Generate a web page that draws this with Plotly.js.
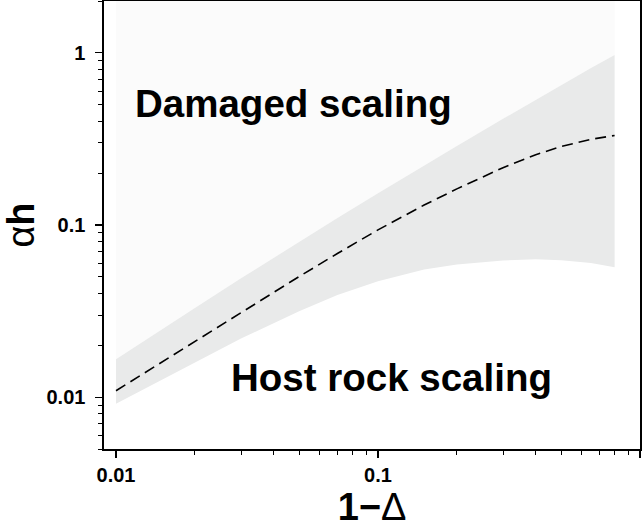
<!DOCTYPE html>
<html>
<head>
<meta charset="utf-8">
<script src="https://cdn.plot.ly/plotly-3.0.1.min.js"></script>
<style>html,body{margin:0;padding:0;background:#fff;}#chart{width:642px;height:528px;}</style>
</head>
<body>
<div id="chart"></div>
<script>
// 1 - Delta values (x)
const oneMinusDelta = [0.01, 0.015, 0.02, 0.03, 0.05, 0.07, 0.1, 0.15, 0.2, 0.3, 0.4, 0.5, 0.65, 0.8];
// upper edge of the grey band
const alphaHUpper   = [0.0166, 0.0249, 0.0330, 0.0490, 0.0799, 0.1098, 0.153, 0.222, 0.288, 0.414, 0.534, 0.649, 0.815, 0.973];
// lower edge of the grey band
const alphaHLower   = [0.00917, 0.01268, 0.01596, 0.0219, 0.0316, 0.0392, 0.0472, 0.0551, 0.0590, 0.0623, 0.0632, 0.0625, 0.0601, 0.0568];
// central dashed curve
const alphaHMid     = [0.0109, 0.01605, 0.02113, 0.03107, 0.0502, 0.0683, 0.0937, 0.1306, 0.1621, 0.2153, 0.2559, 0.2854, 0.3145, 0.3313];

const xTickVals = [0.01, 0.1, 1];
const xTickText = ['0.01', '0.1', '1'];
const yTickVals = [0.01, 0.1, 1];
const yTickText = ['0.01', '0.1', '1'];
const xRange = [0.009, 1];
const yRange = [0.005, 2];

const regionLabels = ['Damaged scaling', 'Host rock scaling'];

const log10 = v => Math.log10(v);

// light region above the band (up to the top of the axis range)
const lightX = oneMinusDelta.concat([oneMinusDelta[oneMinusDelta.length - 1], oneMinusDelta[0]]);
const lightY = alphaHUpper.concat([yRange[1], yRange[1]]);

const traces = [
  {x: lightX, y: lightY, type: 'scatter', mode: 'lines', fill: 'toself',
   fillcolor: '#fbfbfb', line: {width: 0, color: 'rgba(0,0,0,0)'}, hoverinfo: 'skip', showlegend: false},
  {x: oneMinusDelta, y: alphaHLower, type: 'scatter', mode: 'lines',
   line: {width: 0, color: 'rgba(0,0,0,0)'}, hoverinfo: 'skip', showlegend: false},
  {x: oneMinusDelta, y: alphaHUpper, type: 'scatter', mode: 'lines', fill: 'tonexty',
   fillcolor: '#e9eaea', line: {width: 0, color: 'rgba(0,0,0,0)'}, hoverinfo: 'skip', showlegend: false},
  {x: oneMinusDelta, y: alphaHMid, type: 'scatter', mode: 'lines',
   line: {width: 1.6, color: '#000', dash: '11px,6px'}, showlegend: false}
];

const tickFont = {family: 'Liberation Sans, Arial, sans-serif', size: 20, color: '#000', weight: 'bold'};
const labelFont = {family: 'Liberation Sans, Arial, sans-serif', size: 38.5, color: '#000', weight: 'bold'};

const layout = {
  width: 642, height: 528,
  margin: {l: 104, r: 2, t: 1, b: 79, pad: 0},
  paper_bgcolor: '#fff', plot_bgcolor: '#fff',
  showlegend: false,
  xaxis: {
    type: 'log', range: [log10(xRange[0]), log10(xRange[1])],
    tickmode: 'array', tickvals: xTickVals, ticktext: xTickText,
    ticks: 'outside', ticklen: 7, tickwidth: 1.3, tickcolor: '#000',
    minor: {dtick: 'D1', ticks: 'outside', ticklen: 4, tickwidth: 1, tickcolor: '#000', showgrid: false},
    showgrid: false, zeroline: false,
    showline: true, linecolor: '#000', linewidth: 1.6, mirror: true,
    tickfont: tickFont,
    title: {text: '<b>1−</b>Δ', font: {family: 'Liberation Sans, Arial, sans-serif', size: 38, color: '#000'}, standoff: 14},
    automargin: false, fixedrange: true
  },
  yaxis: {
    type: 'log', range: [log10(yRange[0]), log10(yRange[1])],
    tickmode: 'array', tickvals: yTickVals, ticktext: yTickText,
    ticks: 'outside', ticklen: 7, tickwidth: 1.3, tickcolor: '#000',
    minor: {dtick: 'D1', ticks: 'outside', ticklen: 4, tickwidth: 1, tickcolor: '#000', showgrid: false},
    showgrid: false, zeroline: false,
    showline: true, linecolor: '#000', linewidth: 1.6, mirror: true,
    tickfont: tickFont, ticklabelstandoff: 6,
    title: {text: 'α<b>h</b>', font: {family: 'Liberation Sans, Arial, sans-serif', size: 38, color: '#000'}, standoff: 16},
    automargin: false, fixedrange: true
  },
  annotations: [
    {text: regionLabels[0], xref: 'paper', yref: 'paper', x: 0.3535, y: 0.771,
     xanchor: 'center', yanchor: 'middle', showarrow: false, font: labelFont},
    {text: regionLabels[1], xref: 'paper', yref: 'paper', x: 0.537, y: 0.159,
     xanchor: 'center', yanchor: 'middle', showarrow: false, font: labelFont}
  ]
};

Plotly.newPlot('chart', traces, layout, {staticPlot: true, displayModeBar: false});
</script>
</body>
</html>
